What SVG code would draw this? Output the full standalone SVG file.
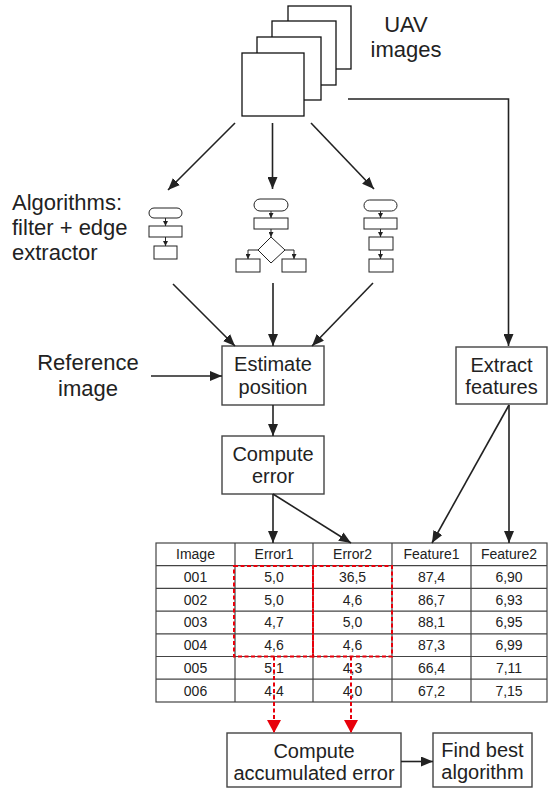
<svg xmlns="http://www.w3.org/2000/svg" width="557" height="790" viewBox="0 0 557 790">
  <style>
    .lbl { font-family: "Liberation Sans", Arial, sans-serif; fill: #222; }
    .big { font-size: 22px; }
    .mid { font-size: 20px; }
    .cell { font-size: 14px; text-anchor: middle; }
    .c { text-anchor: middle; }
    .box { fill: #fff; stroke: #444; stroke-width: 1.4; }
    .sheet { fill: #fff; stroke: #111; stroke-width: 1.3; }
    .fc { fill: #fff; stroke: #222; stroke-width: 1; }
    .fcl { fill: none; stroke: #222; stroke-width: 1; }
    .edge { fill: none; stroke: #222; stroke-width: 1.6; }
    .grid { fill: none; stroke: #444; stroke-width: 1.2; }
    .hl { fill: none; stroke: #e8000b; stroke-width: 2; stroke-dasharray: 4 2.5; }
  </style>
  <defs>
    <marker id="arrBig" viewBox="0 0 10 10" refX="10" refY="5" markerWidth="12" markerHeight="10" markerUnits="userSpaceOnUse" orient="auto" preserveAspectRatio="none">
      <path d="M0,0 L10,5 L0,10 Z" fill="#222"/>
    </marker>
    <marker id="arrSmall" viewBox="0 0 10 10" refX="10" refY="5" markerWidth="5" markerHeight="5" markerUnits="userSpaceOnUse" orient="auto">
      <path d="M0,0 L10,5 L0,10 Z" fill="#222"/>
    </marker>
    <marker id="arrRed" viewBox="0 0 10 10" refX="10" refY="5" markerWidth="13" markerHeight="14" markerUnits="userSpaceOnUse" orient="auto" preserveAspectRatio="none">
      <path d="M0,0 L10,5 L0,10 Z" fill="#e8000b"/>
    </marker>
  </defs>

  <!-- stack of input images -->
  <g id="uav-images">
    <rect class="sheet" x="288" y="6" width="63" height="63"/>
    <rect class="sheet" x="272" y="21" width="64" height="64"/>
    <rect class="sheet" x="257" y="37" width="64" height="63"/>
    <rect class="sheet" x="242" y="53" width="62" height="63"/>
    <text class="lbl big c" x="406" y="32">UAV</text>
    <text class="lbl big c" x="406" y="57">images</text>
  </g>

  <!-- candidate algorithms -->
  <g id="algorithms-label">
    <text class="lbl big" x="12" y="210">Algorithms:</text>
    <text class="lbl big" x="12" y="235">filter + edge</text>
    <text class="lbl big" x="12" y="260">extractor</text>
  </g>

  <g id="algorithm-1">
    <rect class="fc" x="149" y="208" width="33" height="10" rx="5"/>
    <rect class="fc" x="149" y="226" width="33" height="11"/>
    <rect class="fc" x="154" y="246" width="23" height="13"/>
    <line class="fcl" x1="165.5" y1="218" x2="165.5" y2="226" marker-end="url(#arrSmall)"/>
    <line class="fcl" x1="165.5" y1="237" x2="165.5" y2="246" marker-end="url(#arrSmall)"/>
  </g>

  <g id="algorithm-2">
    <rect class="fc" x="254" y="199" width="34" height="12" rx="6"/>
    <rect class="fc" x="254" y="218" width="34" height="11"/>
    <path class="fc" d="M271,237 L285,250 L271,263 L258,250 Z"/>
    <rect class="fc" x="236" y="259" width="24" height="13"/>
    <rect class="fc" x="282" y="259" width="24" height="13"/>
    <line class="fcl" x1="271" y1="211" x2="271" y2="218" marker-end="url(#arrSmall)"/>
    <line class="fcl" x1="271" y1="229" x2="271" y2="237" marker-end="url(#arrSmall)"/>
    <path class="fcl" d="M258,250 H248 V259" marker-end="url(#arrSmall)"/>
    <path class="fcl" d="M285,250 H294 V259" marker-end="url(#arrSmall)"/>
  </g>

  <g id="algorithm-3">
    <rect class="fc" x="364" y="200" width="33" height="11" rx="5.5"/>
    <rect class="fc" x="364" y="218" width="33" height="11"/>
    <rect class="fc" x="369" y="237" width="24" height="13"/>
    <rect class="fc" x="369" y="259" width="24" height="13"/>
    <line class="fcl" x1="380.5" y1="211" x2="380.5" y2="218" marker-end="url(#arrSmall)"/>
    <line class="fcl" x1="380.5" y1="229" x2="380.5" y2="237" marker-end="url(#arrSmall)"/>
    <line class="fcl" x1="380.5" y1="250" x2="380.5" y2="259" marker-end="url(#arrSmall)"/>
  </g>

  <!-- processing steps -->
  <g id="reference-image">
    <text class="lbl big c" x="88" y="370">Reference</text>
    <text class="lbl big c" x="88" y="396">image</text>
  </g>

  <g id="estimate-position">
    <rect class="box" x="222" y="346" width="102" height="59"/>
    <text class="lbl mid c" x="273" y="371">Estimate</text>
    <text class="lbl mid c" x="273" y="394">position</text>
  </g>

  <g id="compute-error">
    <rect class="box" x="222" y="436" width="102" height="58"/>
    <text class="lbl mid c" x="273" y="461">Compute</text>
    <text class="lbl mid c" x="273" y="483">error</text>
  </g>

  <g id="extract-features">
    <rect class="box" x="456" y="347" width="91" height="57"/>
    <text class="lbl mid c" x="501.5" y="372">Extract</text>
    <text class="lbl mid c" x="501.5" y="394">features</text>
  </g>

  <g id="compute-accumulated-error">
    <rect class="box" x="227" y="733" width="174" height="54"/>
    <text class="lbl mid c" x="314" y="758">Compute</text>
    <text class="lbl mid c" x="314" y="780">accumulated error</text>
  </g>

  <g id="find-best-algorithm">
    <rect class="box" x="433" y="733" width="99" height="54"/>
    <text class="lbl mid c" x="482.5" y="757">Find best</text>
    <text class="lbl mid c" x="482.5" y="779">algorithm</text>
  </g>

  <!-- results table -->
  <g id="results-table">
    <rect class="grid" x="156" y="543" width="391" height="159"/>
    <line class="grid" x1="235" y1="543" x2="235" y2="702"/>
    <line class="grid" x1="313" y1="543" x2="313" y2="702"/>
    <line class="grid" x1="392" y1="543" x2="392" y2="702"/>
    <line class="grid" x1="471" y1="543" x2="471" y2="702"/>
    <line class="grid" x1="156" y1="565.7" x2="547" y2="565.7"/>
    <line class="grid" x1="156" y1="588.4" x2="547" y2="588.4"/>
    <line class="grid" x1="156" y1="611.1" x2="547" y2="611.1"/>
    <line class="grid" x1="156" y1="633.8" x2="547" y2="633.8"/>
    <line class="grid" x1="156" y1="656.5" x2="547" y2="656.5"/>
    <line class="grid" x1="156" y1="679.2" x2="547" y2="679.2"/>

    <g class="lbl cell">
      <text x="195.5" y="559">Image</text>
      <text x="274" y="559">Error1</text>
      <text x="352.5" y="559">Error2</text>
      <text x="431.5" y="559">Feature1</text>
      <text x="509" y="559">Feature2</text>

      <text x="195.5" y="582">001</text>
      <text x="274" y="582">5,0</text>
      <text x="352.5" y="582">36,5</text>
      <text x="431.5" y="582">87,4</text>
      <text x="509" y="582">6,90</text>

      <text x="195.5" y="604.7">002</text>
      <text x="274" y="604.7">5,0</text>
      <text x="352.5" y="604.7">4,6</text>
      <text x="431.5" y="604.7">86,7</text>
      <text x="509" y="604.7">6,93</text>

      <text x="195.5" y="627.4">003</text>
      <text x="274" y="627.4">4,7</text>
      <text x="352.5" y="627.4">5,0</text>
      <text x="431.5" y="627.4">88,1</text>
      <text x="509" y="627.4">6,95</text>

      <text x="195.5" y="650.1">004</text>
      <text x="274" y="650.1">4,6</text>
      <text x="352.5" y="650.1">4,6</text>
      <text x="431.5" y="650.1">87,3</text>
      <text x="509" y="650.1">6,99</text>

      <text x="195.5" y="672.8">005</text>
      <text x="274" y="672.8">5,1</text>
      <text x="352.5" y="672.8">4,3</text>
      <text x="431.5" y="672.8">66,4</text>
      <text x="509" y="672.8">7,11</text>

      <text x="195.5" y="695.5">006</text>
      <text x="274" y="695.5">4,4</text>
      <text x="352.5" y="695.5">4,0</text>
      <text x="431.5" y="695.5">67,2</text>
      <text x="509" y="695.5">7,15</text>
    </g>
  </g>

  <!-- connectors -->
  <g id="connectors">
    <line class="edge" x1="235" y1="123" x2="168" y2="190" marker-end="url(#arrBig)"/>
    <line class="edge" x1="272.5" y1="123" x2="272.5" y2="189" marker-end="url(#arrBig)"/>
    <line class="edge" x1="311" y1="123" x2="374" y2="189" marker-end="url(#arrBig)"/>
    <path class="edge" d="M348,99 H508.5 V346" marker-end="url(#arrBig)"/>

    <line class="edge" x1="173" y1="284" x2="235" y2="346" marker-end="url(#arrBig)"/>
    <line class="edge" x1="273" y1="283" x2="273" y2="346" marker-end="url(#arrBig)"/>
    <line class="edge" x1="373" y1="283" x2="312" y2="346" marker-end="url(#arrBig)"/>

    <line class="edge" x1="151" y1="376" x2="222" y2="376" marker-end="url(#arrBig)"/>
    <line class="edge" x1="273" y1="405" x2="273" y2="436" marker-end="url(#arrBig)"/>

    <line class="edge" x1="273" y1="494" x2="273" y2="543" marker-end="url(#arrBig)"/>
    <line class="edge" x1="273" y1="494" x2="351" y2="543" marker-end="url(#arrBig)"/>

    <line class="edge" x1="509" y1="405" x2="432" y2="543" marker-end="url(#arrBig)"/>
    <line class="edge" x1="509" y1="405" x2="509" y2="543" marker-end="url(#arrBig)"/>

    <line class="edge" x1="401" y1="761.5" x2="433" y2="761.5" marker-end="url(#arrBig)"/>

    <!-- highlighted error columns feeding the accumulation step -->
    <rect class="hl" x="234" y="566" width="79" height="90.5"/>
    <rect class="hl" x="313" y="566" width="79" height="90.5"/>
    <line class="hl" x1="274" y1="656.5" x2="274" y2="733" marker-end="url(#arrRed)"/>
    <line class="hl" x1="351" y1="656.5" x2="351" y2="733" marker-end="url(#arrRed)"/>
  </g>
</svg>
